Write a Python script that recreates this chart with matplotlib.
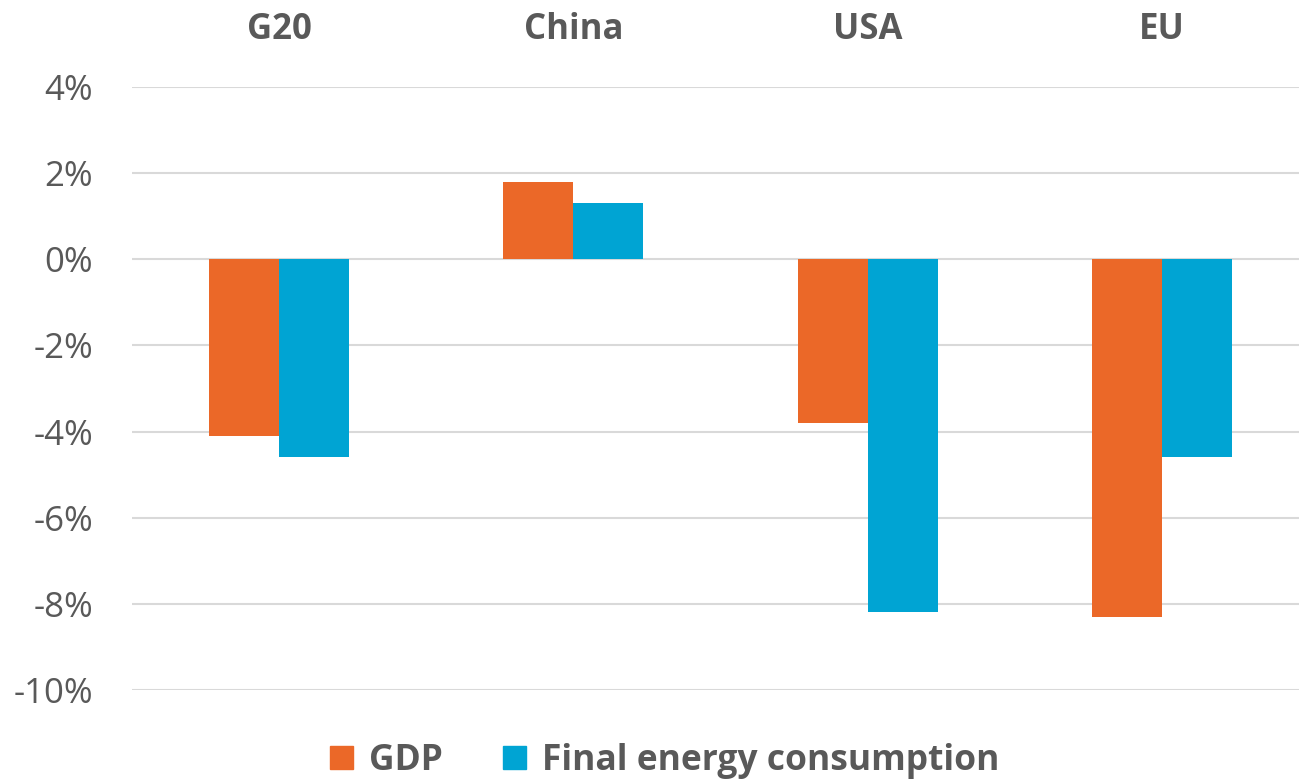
import matplotlib.pyplot as plt
from matplotlib.patches import Patch
from matplotlib.transforms import blended_transform_factory
import numpy as np

regions = ['G20', 'China', 'USA', 'EU']
gdp = [-4.1, 1.8, -3.8, -8.3]
energy = [-4.6, 1.3, -8.2, -4.6]
yticks = [4, 2, 0, -2, -4, -6, -8, -10]

orange = '#EB6828'
blue = '#00A4D3'
grey = '#595959'

plt.rcParams['font.family'] = ['Open Sans', 'DejaVu Sans']

W, H = 1299, 782
fig = plt.figure(figsize=(W / 100, H / 100), dpi=100)
ax = fig.add_axes([132 / W, 1 - 690 / H, (1309 - 132) / W, (690 - 87) / H])

x = np.arange(len(regions))
bw = 0.238
ax.bar(x - bw / 2, gdp, bw, color=orange, zorder=3)
ax.bar(x + bw / 2, energy, bw, color=blue, zorder=3)

ax.set_xlim(-0.5, len(regions) - 0.5)
ax.set_ylim(-10, 4)
ax.set_yticks(yticks)
ax.set_yticklabels([f'{v}%' for v in yticks], fontsize=25, color=grey)
ax.tick_params(axis='y', length=0, pad=28)
ax.set_xticks([])
ax.yaxis.grid(True, color='#D9D9D9', linewidth=1.5, zorder=0)
for s in ax.spines.values():
    s.set_visible(False)

# region names above the plot
trans = blended_transform_factory(ax.transData, fig.transFigure)
for i, name in enumerate(regions):
    ax.text(i, 1 - 30 / H, name, transform=trans, ha='center', va='center',
            fontsize=25, fontweight='bold', color=grey)

handles = [Patch(color=orange, label='GDP'), Patch(color=blue, label='Final energy consumption')]
leg = fig.legend(handles=handles, loc='center', bbox_to_anchor=(665 / W, 1 - 761 / H),
                 ncol=2, frameon=False, handlelength=0.65, handleheight=0.65,
                 handletextpad=0.45, columnspacing=1.7,
                 prop={'size': 25.5, 'weight': 'bold'})
for t in leg.get_texts():
    t.set_color(grey)

fig.savefig('out.png', dpi=100)
